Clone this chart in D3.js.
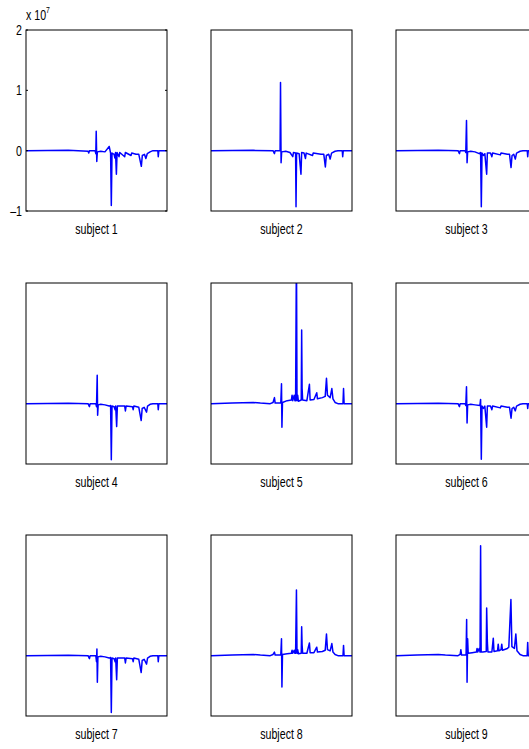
<!DOCTYPE html>
<html>
<head>
<meta charset="utf-8">
<script src="https://cdn.jsdelivr.net/npm/d3@7"></script>
<style>
    body { margin: 0; background: #fff; }
    text { font-family: "Liberation Sans", Arial, Helvetica, sans-serif; fill: #000; }
</style>
</head>
<body>
<div id="chart"></div>
<script>
// subject names, one panel per subject
var subjects = ["subject 1", "subject 2", "subject 3", "subject 4", "subject 5",
    "subject 6", "subject 7", "subject 8", "subject 9"];

// y ticks (x 10^7), only shown on the first panel
var yTicks = [2, 1, 0, -1];
var yDomain = [-1, 2];

// each spectrum as [position (0..1 of the panel), intensity x 10^7]
var spec1 = [[0, 0], [0.3, 0.005], [0.44, -0.01], [0.445, -0.04], [0.45, 0], [0.49, 0], [0.495, -0.05],
    [0.498, 0.32], [0.502, -0.18], [0.506, -0.02], [0.53, -0.01], [0.56, -0.02], [0.59, 0.07], [0.6, -0.04],
    [0.605, -0.91], [0.61, -0.04], [0.625, -0.06], [0.63, -0.12], [0.635, -0.03], [0.641, -0.39],
    [0.646, -0.03], [0.66, -0.1], [0.665, -0.03], [0.7, -0.1], [0.705, -0.03], [0.745, -0.08], [0.75, -0.04],
    [0.78, -0.06], [0.8, -0.06], [0.818, -0.26], [0.825, -0.08], [0.84, -0.06], [0.85, -0.13], [0.86, -0.05],
    [0.88, -0.02], [0.9, 0], [0.935, 0], [0.938, -0.1], [0.942, 0], [1, 0]];
var spec2 = [[0, 0], [0.3, 0.005], [0.44, 0], [0.45, -0.05], [0.455, 0], [0.49, 0], [0.493, 1.13],
    [0.497, -0.2], [0.501, -0.02], [0.53, -0.01], [0.56, -0.03], [0.58, -0.1], [0.585, -0.03], [0.6, -0.04],
    [0.603, -0.93], [0.607, -0.04], [0.625, -0.05], [0.638, -0.39], [0.643, -0.03], [0.66, -0.04],
    [0.67, -0.13], [0.675, -0.04], [0.72, -0.08], [0.725, -0.04], [0.78, -0.06], [0.8, -0.06], [0.811, -0.27],
    [0.818, -0.08], [0.835, -0.06], [0.845, -0.14], [0.855, -0.04], [0.88, -0.01], [0.9, 0], [0.931, 0],
    [0.934, -0.1], [0.938, 0], [1, 0]];
var spec3 = [[0, 0], [0.3, 0.005], [0.44, 0], [0.45, -0.05], [0.455, 0], [0.49, 0], [0.495, -0.03],
    [0.5, 0.5], [0.504, -0.2], [0.508, -0.02], [0.53, -0.01], [0.56, -0.02], [0.59, -0.05], [0.6, -0.03],
    [0.605, -0.93], [0.61, -0.04], [0.62, -0.08], [0.63, -0.05], [0.643, -0.39], [0.648, -0.04],
    [0.67, -0.04], [0.68, -0.1], [0.685, -0.04], [0.74, -0.07], [0.745, -0.04], [0.79, -0.06], [0.805, -0.06],
    [0.816, -0.28], [0.823, -0.08], [0.835, -0.06], [0.846, -0.14], [0.855, -0.04], [0.88, -0.01], [0.9, 0],
    [0.931, 0], [0.934, -0.1], [0.938, 0], [1, 0]];
var spec4 = [[0, 0], [0.3, 0.005], [0.44, 0], [0.45, -0.05], [0.455, 0], [0.495, 0], [0.5, -0.05],
    [0.505, 0.47], [0.508, -0.19], [0.512, -0.02], [0.53, -0.01], [0.56, -0.02], [0.59, -0.04], [0.6, -0.03],
    [0.605, -0.93], [0.61, -0.04], [0.625, -0.05], [0.632, -0.1], [0.636, -0.04], [0.643, -0.38],
    [0.648, -0.04], [0.7, -0.04], [0.705, -0.12], [0.71, -0.04], [0.755, -0.05], [0.76, -0.1], [0.765, -0.04],
    [0.8, -0.06], [0.817, -0.28], [0.824, -0.08], [0.838, -0.06], [0.855, -0.14], [0.862, -0.04],
    [0.88, -0.01], [0.9, 0], [0.935, 0], [0.938, -0.1], [0.942, 0], [1, 0]];
var spec5 = [[0, 0], [0.15, 0.01], [0.3, 0.02], [0.35, 0.01], [0.42, 0], [0.44, 0.02], [0.45, 0.1],
    [0.455, 0.01], [0.495, 0.01], [0.5, 0.33], [0.503, -0.39], [0.507, 0.02], [0.54, 0.05], [0.57, 0.06],
    [0.575, 0.14], [0.58, 0.05], [0.59, 0.14], [0.595, 0.05], [0.6, 0.05], [0.606, 2.6], [0.61, 0.05],
    [0.615, 0.14], [0.62, 0.04], [0.64, 0.06], [0.643, 1.22], [0.646, 0.26], [0.65, 0.06], [0.68, 0.05],
    [0.698, 0.32], [0.703, 0.06], [0.73, 0.07], [0.75, 0.18], [0.755, 0.08], [0.79, 0.1], [0.81, 0.12],
    [0.819, 0.42], [0.826, 0.14], [0.845, 0.1], [0.857, 0.25], [0.865, 0.08], [0.88, 0.02], [0.9, 0],
    [0.936, 0], [0.94, 0.25], [0.944, 0], [1, 0]];
var spec6 = [[0, 0], [0.3, 0.005], [0.44, 0], [0.45, -0.05], [0.455, 0], [0.49, 0], [0.495, -0.03],
    [0.5, 0.28], [0.504, -0.32], [0.508, -0.02], [0.53, -0.01], [0.56, -0.02], [0.595, -0.03], [0.6, 0.07],
    [0.605, -0.92], [0.61, -0.04], [0.62, -0.08], [0.63, -0.04], [0.643, -0.39], [0.648, -0.04],
    [0.67, -0.04], [0.68, -0.1], [0.685, -0.04], [0.74, -0.07], [0.745, -0.04], [0.79, -0.06], [0.805, -0.06],
    [0.816, -0.24], [0.823, -0.08], [0.835, -0.06], [0.846, -0.12], [0.855, -0.04], [0.88, -0.01], [0.9, 0],
    [0.931, 0], [0.934, -0.08], [0.938, 0], [1, 0]];
var spec7 = [[0, 0], [0.3, 0.005], [0.44, 0], [0.45, -0.05], [0.455, 0], [0.495, 0], [0.5, -0.1],
    [0.503, 0.11], [0.506, -0.44], [0.51, -0.02], [0.53, -0.01], [0.56, -0.02], [0.59, -0.04], [0.6, -0.03],
    [0.605, -0.94], [0.61, -0.04], [0.625, -0.05], [0.632, -0.1], [0.636, -0.04], [0.643, -0.4],
    [0.648, -0.04], [0.7, -0.04], [0.705, -0.12], [0.71, -0.04], [0.755, -0.05], [0.76, -0.1], [0.765, -0.04],
    [0.8, -0.06], [0.817, -0.28], [0.824, -0.08], [0.838, -0.06], [0.855, -0.14], [0.862, -0.04],
    [0.88, -0.01], [0.9, 0], [0.935, 0], [0.938, -0.1], [0.942, 0], [1, 0]];
var spec8 = [[0, 0], [0.15, 0.01], [0.3, 0.02], [0.35, 0.01], [0.42, 0], [0.44, 0.02], [0.45, 0.06],
    [0.455, 0.01], [0.495, 0.01], [0.5, 0.28], [0.503, -0.52], [0.507, 0.02], [0.54, 0.03], [0.57, 0.04],
    [0.575, 0.09], [0.58, 0.04], [0.59, 0.09], [0.595, 0.04], [0.6, 0.04], [0.606, 1.09], [0.61, 0.04],
    [0.615, 0.1], [0.62, 0.03], [0.64, 0.04], [0.643, 0.48], [0.646, 0.18], [0.65, 0.04], [0.68, 0.04],
    [0.698, 0.21], [0.703, 0.05], [0.73, 0.05], [0.75, 0.14], [0.755, 0.06], [0.79, 0.07], [0.81, 0.09],
    [0.819, 0.36], [0.826, 0.1], [0.845, 0.08], [0.857, 0.2], [0.865, 0.06], [0.88, 0.02], [0.9, 0],
    [0.936, 0], [0.94, 0.17], [0.944, 0], [1, 0]];
var spec9 = [[0, 0], [0.15, 0.01], [0.3, 0.02], [0.35, 0.01], [0.44, 0], [0.455, 0.02], [0.46, 0.1],
    [0.465, 0.01], [0.497, 0.01], [0.501, 0.6], [0.504, -0.44], [0.508, 0.28], [0.512, 0.04], [0.54, 0.05],
    [0.57, 0.06], [0.575, 0.12], [0.58, 0.06], [0.59, 0.12], [0.596, 0.06], [0.6, 1.82], [0.604, 0.06],
    [0.615, 0.06], [0.64, 0.07], [0.643, 0.79], [0.648, 0.22], [0.652, 0.06], [0.68, 0.06], [0.69, 0.29],
    [0.695, 0.07], [0.72, 0.08], [0.725, 0.19], [0.73, 0.08], [0.745, 0.1], [0.75, 0.19], [0.755, 0.09],
    [0.79, 0.12], [0.8, 0.14], [0.815, 0.93], [0.822, 0.15], [0.84, 0.12], [0.85, 0.36], [0.858, 0.08],
    [0.88, 0.02], [0.9, 0], [0.93, 0], [0.934, 0.22], [0.938, 0], [1, 0]];
var spectra = [spec1, spec2, spec3, spec4, spec5, spec6, spec7, spec8, spec9];

// page and panel layout
var pageW = 529, pageH = 749;
var panelW = 141, panelH = 181;
var colLeft = [26, 211, 396];
var rowTop = [30, 283, 535];

var svg = d3.select("#chart").append("svg")
    .attr("width", pageW)
    .attr("height", pageH);

var x = d3.scaleLinear().domain([0, 1]).range([0, panelW]);
var y = d3.scaleLinear().domain(yDomain).range([panelH, 0]);

var line = d3.line()
    .x(function (d) { return x(d[0]); })
    .y(function (d) { return y(d[1]); });

subjects.forEach(function (name, i) {
    var left = colLeft[i % 3], top = rowTop[Math.floor(i / 3)];
    var g = svg.append("g")
        .attr("transform", "translate(" + left + "," + top + ")");

    // clip so the tall peak in subject 5 is cut at the box
    g.append("clipPath")
        .attr("id", "clip" + i)
        .append("rect")
        .attr("width", panelW)
        .attr("height", panelH);

    g.append("path")
        .datum(spectra[i])
        .attr("clip-path", "url(#clip" + i + ")")
        .attr("fill", "none")
        .attr("stroke", "#0000ff")
        .attr("stroke-width", 1.5)
        .attr("stroke-linejoin", "round")
        .attr("d", line);

    g.append("rect")
        .attr("width", panelW)
        .attr("height", panelH)
        .attr("fill", "none")
        .attr("stroke", "#000")
        .attr("stroke-width", 1);

    // subject label under the box, narrow like the original font
    g.append("text")
        .attr("transform", "translate(" + (panelW / 2) + "," + (panelH + 23) + ") scale(0.76,1)")
        .attr("text-anchor", "middle")
        .style("font-size", "14px")
        .text(name);

    if (i === 0) {
        // inward ticks on both sides
        var ticks = g.append("g");
        ticks.selectAll(".tl")
            .data(yTicks)
            .enter().append("line")
            .attr("x1", 0).attr("x2", 2)
            .attr("y1", function (d) { return y(d); })
            .attr("y2", function (d) { return y(d); })
            .attr("stroke", "#000");
        ticks.selectAll(".tr")
            .data(yTicks)
            .enter().append("line")
            .attr("x1", panelW).attr("x2", panelW - 2)
            .attr("y1", function (d) { return y(d); })
            .attr("y2", function (d) { return y(d); })
            .attr("stroke", "#000");
        ticks.selectAll("text")
            .data(yTicks)
            .enter().append("text")
            .attr("transform", function (d) { return "translate(-4," + (y(d) + 5) + ") scale(0.76,1)"; })
            .attr("text-anchor", "end")
            .style("font-size", "14px")
            .text(function (d) { return d < 0 ? "\u2013" + (-d) : d; });

        // exponent label
        var ex = g.append("text")
            .attr("transform", "translate(0,-10) scale(0.76,1)")
            .style("font-size", "14px");
        ex.append("tspan").text("x 10");
        ex.append("tspan")
            .attr("dy", -7)
            .style("font-size", "9px")
            .text("7");
    }
});
</script>
</body>
</html>
